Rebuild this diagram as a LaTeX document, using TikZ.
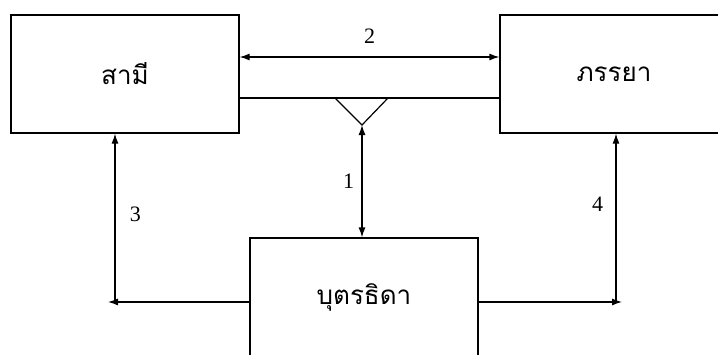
\documentclass[tikz,border=0pt]{standalone}
\usepackage{fontspec}
\setmainfont{Liberation Serif}
\newfontfamily\thaifont[Script=Thai]{Loma}
\usetikzlibrary{arrows.meta}

\begin{document}
\begin{tikzpicture}[x=1pt,y=-1pt,>={Latex[length=10pt,width=7pt]},line width=1.2pt,
    box/.style={draw,minimum width=228pt,minimum height=118pt,inner sep=0pt,
        font=\thaifont\fontsize{26}{30}\selectfont},
    num/.style={font=\fontsize{22}{26}\selectfont}]
    \clip (0,0) rectangle (718,354);

    % Boxes
    \node[box] (husband) at (125,74) {สามี};
    \node[box] (wife) at (614,74) {ภรรยา};
    \node[box] (child) at (364,297) {บุตรธิดา};

    % Husband - wife
    \draw[<->] ([yshift=17pt]husband.east) -- node[num,above=10pt]{2} ([yshift=17pt]wife.west);
    \draw ([yshift=-24pt]husband.east) -- ([yshift=-24pt]wife.west);

    % Parents - child
    \coordinate (apex) at (362,125);
    \draw (335,98) -- (apex) -- (388,98);
    \draw[<->] (apex) -- node[num,left=4pt]{1} (apex |- child.north);

    % Child - husband
    \coordinate (c3) at (115,302);
    \draw[->] (child.west |- c3) -- ([xshift=-7pt]c3);
    \draw[->] (c3) -- node[num,right=11pt,pos=0.52]{3} (c3 |- husband.south);

    % Child - wife
    \coordinate (c4) at (616,302);
    \draw[->] (child.east |- c4) -- ([xshift=6pt]c4);
    \draw[->] (c4) -- node[num,left=9pt,pos=0.58]{4} (c4 |- wife.south);
\end{tikzpicture}
\end{document}
